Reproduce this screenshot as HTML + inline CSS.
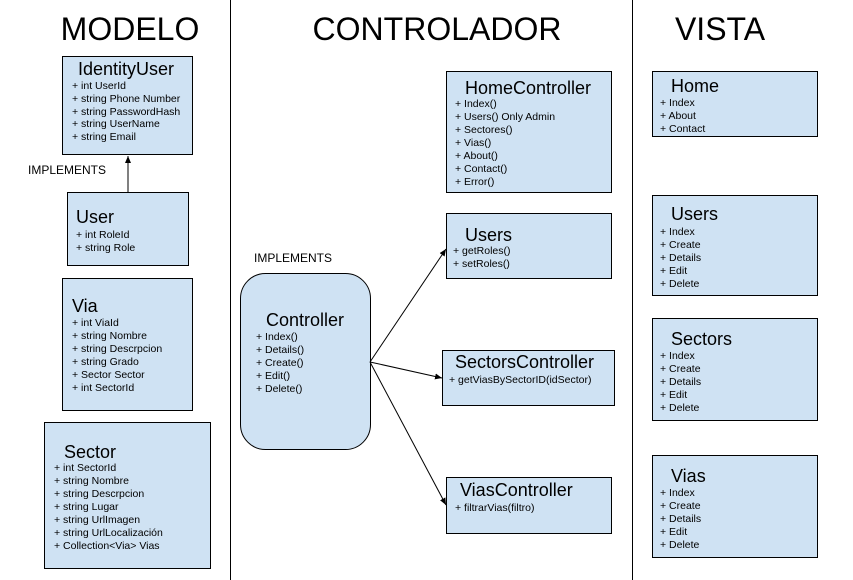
<!DOCTYPE html>
<html><head><meta charset="utf-8"><style>
html,body{margin:0;padding:0;background:#fff}
svg{display:block;font-family:"Liberation Sans",Arial,sans-serif}
.b{fill:#cfe2f3;stroke:#000;stroke-width:1}
.t{font-size:18px}
.i{font-size:10.5px}
.h{font-size:32px}
</style></head><body>
<svg width="853" height="580" viewBox="0 0 853 580" xmlns="http://www.w3.org/2000/svg">
<defs><marker id="a" markerWidth="8" markerHeight="8" refX="7" refY="4" orient="auto" markerUnits="userSpaceOnUse"><path d="M0,1 L7,4 L0,7 z" fill="#000"/></marker></defs>
<line x1="230.5" y1="0" x2="230.5" y2="580" stroke="#000"/>
<line x1="632.5" y1="0" x2="632.5" y2="580" stroke="#000"/>
<text class="h" x="130" y="40" text-anchor="middle">MODELO</text>
<text class="h" x="437" y="40" text-anchor="middle">CONTROLADOR</text>
<text class="h" x="720" y="40" text-anchor="middle">VISTA</text>

<rect class="b" x="62.5" y="56.5" width="130" height="98"/>
<text class="t" x="78" y="75">IdentityUser</text>
<text class="i" x="72" y="89">+ int UserId</text>
<text class="i" x="72" y="102">+ string Phone Number</text>
<text class="i" x="72" y="115">+ string PasswordHash</text>
<text class="i" x="72" y="127">+ string UserName</text>
<text class="i" x="72" y="140">+ string Email</text>
<line x1="128" y1="192" x2="128" y2="156" stroke="#000" marker-end="url(#a)"/>
<text x="28" y="174" font-size="12">IMPLEMENTS</text>

<rect class="b" x="67.5" y="192.5" width="121" height="73"/>
<text class="t" x="76" y="223">User</text>
<text class="i" x="76" y="238">+ int RoleId</text>
<text class="i" x="76" y="251">+ string Role</text>

<rect class="b" x="62.5" y="278.5" width="130" height="132"/>
<text class="t" x="72" y="312">Via</text>
<text class="i" x="72" y="326">+ int ViaId</text>
<text class="i" x="72" y="339">+ string Nombre</text>
<text class="i" x="72" y="352">+ string Descrpcion</text>
<text class="i" x="72" y="365">+ string Grado</text>
<text class="i" x="72" y="378">+ Sector Sector</text>
<text class="i" x="72" y="391">+ int SectorId</text>

<rect class="b" x="44.5" y="422.5" width="166" height="146"/>
<text class="t" x="64" y="458">Sector</text>
<text class="i" x="54" y="471">+ int SectorId</text>
<text class="i" x="54" y="484">+ string Nombre</text>
<text class="i" x="54" y="497">+ string Descrpcion</text>
<text class="i" x="54" y="510">+ string Lugar</text>
<text class="i" x="54" y="523">+ string UrlImagen</text>
<text class="i" x="54" y="536">+ string UrlLocalización</text>
<text class="i" x="54" y="549">+ Collection&lt;Via&gt;  Vias</text>

<text x="254" y="262" font-size="12">IMPLEMENTS</text>
<rect class="b" x="240.5" y="273.5" width="130" height="176" rx="25"/>
<text class="t" x="266" y="326">Controller</text>
<text class="i" x="256" y="340">+ Index()</text>
<text class="i" x="256" y="353">+ Details()</text>
<text class="i" x="256" y="366">+ Create()</text>
<text class="i" x="256" y="379">+ Edit()</text>
<text class="i" x="256" y="392">+ Delete()</text>

<line x1="370" y1="362" x2="446" y2="249" stroke="#000" marker-end="url(#a)"/>
<line x1="370" y1="362" x2="442" y2="378" stroke="#000" marker-end="url(#a)"/>
<line x1="370" y1="362" x2="446" y2="505" stroke="#000" marker-end="url(#a)"/>

<rect class="b" x="446.5" y="71.5" width="165" height="121"/>
<text class="t" x="465" y="94">HomeController</text>
<text class="i" x="455" y="107">+ Index()</text>
<text class="i" x="455" y="120">+ Users() Only Admin</text>
<text class="i" x="455" y="133">+ Sectores()</text>
<text class="i" x="455" y="146">+ Vias()</text>
<text class="i" x="455" y="159">+ About()</text>
<text class="i" x="455" y="172">+ Contact()</text>
<text class="i" x="455" y="185">+ Error()</text>

<rect class="b" x="446.5" y="213.5" width="165" height="65"/>
<text class="t" x="465" y="241">Users</text>
<text class="i" x="453" y="254">+ getRoles()</text>
<text class="i" x="453" y="267">+ setRoles()</text>

<rect class="b" x="442.5" y="350.5" width="172" height="55"/>
<text class="t" x="455" y="368">SectorsController</text>
<text class="i" x="449" y="383">+ getViasBySectorID(idSector)</text>

<rect class="b" x="446.5" y="477.5" width="165" height="56"/>
<text class="t" x="460" y="496">ViasController</text>
<text class="i" x="455" y="511">+ filtrarVias(filtro)</text>

<rect class="b" x="652.5" y="71.5" width="165" height="65"/>
<text class="t" x="671" y="92">Home</text>
<text class="i" x="660" y="106">+ Index</text>
<text class="i" x="660" y="119">+ About</text>
<text class="i" x="660" y="132">+ Contact</text>

<rect class="b" x="652.5" y="195.5" width="165" height="100"/>
<text class="t" x="671" y="220">Users</text>
<text class="i" x="660" y="235">+ Index</text>
<text class="i" x="660" y="248">+ Create</text>
<text class="i" x="660" y="261">+ Details</text>
<text class="i" x="660" y="274">+ Edit</text>
<text class="i" x="660" y="287">+ Delete</text>

<rect class="b" x="652.5" y="318.5" width="165" height="102"/>
<text class="t" x="671" y="345">Sectors</text>
<text class="i" x="660" y="359">+ Index</text>
<text class="i" x="660" y="372">+ Create</text>
<text class="i" x="660" y="385">+ Details</text>
<text class="i" x="660" y="398">+ Edit</text>
<text class="i" x="660" y="411">+ Delete</text>

<rect class="b" x="652.5" y="455.5" width="165" height="102"/>
<text class="t" x="671" y="482">Vias</text>
<text class="i" x="660" y="496">+ Index</text>
<text class="i" x="660" y="509">+ Create</text>
<text class="i" x="660" y="522">+ Details</text>
<text class="i" x="660" y="535">+ Edit</text>
<text class="i" x="660" y="548">+ Delete</text>
</svg>
</body></html>
